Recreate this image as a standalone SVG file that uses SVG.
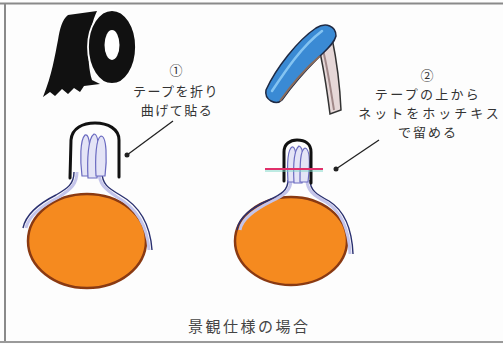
<svg xmlns="http://www.w3.org/2000/svg" width="503" height="344" viewBox="0 0 503 344">
  <defs>
    <style>
      .lbl { font-family: "Noto Sans CJK JP", "Noto Sans", sans-serif; font-size: 13px; fill: #333; text-anchor: middle; }
      .cap { font-family: "Noto Sans CJK JP", "Noto Sans", sans-serif; font-size: 15px; fill: #444; letter-spacing: 2.5px; }
      .tape { fill: none; stroke: #111; stroke-width: 3; stroke-linecap: round; }
      .loop { fill: #e4e4f6; stroke: #6a6ac0; stroke-width: 1.2; }
      .netIn { fill: none; stroke: #c4c4ea; stroke-width: 3; }
      .netOut { fill: none; stroke: #2a3070; stroke-width: 1.4; }
      .ball { fill: #f58a1f; stroke: #8a3a12; stroke-width: 2.5; }
      .lead { fill: none; stroke: #222; stroke-width: 1.3; }
    </style>
  </defs>

  <!-- background and frame -->
  <rect x="0" y="0" width="503" height="344" fill="#fdfdfd"/>
  <line x1="0" y1="3.5" x2="503" y2="3.5" stroke="#8a8a8a" stroke-width="2"/>
  <line x1="5" y1="3" x2="5" y2="343" stroke="#8a8a8a" stroke-width="2"/>
  <line x1="0" y1="342" x2="503" y2="342" stroke="#9a9a9a" stroke-width="2"/>

  <!-- roll of tape -->
  <g id="tape-roll">
    <path d="M68,15 L97,11 C88,30 86,60 92,80 L100,84 L84,86 L80,92 L74,88 L68,94 L62,89 L55,96 L50,92 L43,97 C52,75 55,55 58,40 C60,28 62,20 68,15 Z" fill="#111"/>
    <ellipse cx="112" cy="47" rx="24" ry="37" fill="#111" stroke="#fff" stroke-width="1.8"/>
    <ellipse cx="112" cy="45" rx="7.5" ry="15" fill="#fff"/>
  </g>

  <!-- stapler -->
  <g id="stapler">
    <path d="M318,44 L332,38 C337,62 340,88 341,110 L330,114 C327,90 323,64 318,44 Z" fill="#e6d8d8" stroke="#333" stroke-width="1.5"/>
    <path d="M323,50 C328,70 331,92 334,110" fill="none" stroke="#a08888" stroke-width="2"/>
    <path d="M266,90 C276,68 298,40 316,28 C326,22 336,26 336,36 C334,44 326,50 318,58 C306,70 292,86 282,100 C276,106 264,100 266,90 Z" fill="#3a8ad4" stroke="#1f2a44" stroke-width="1.5"/>
    <path d="M272,91 C286,70 302,46 322,31" fill="none" stroke="#84c4f2" stroke-width="2.5" stroke-linecap="round"/>
    <path d="M280,101 C292,84 306,68 320,56" fill="none" stroke="#8a6a5a" stroke-width="2"/>
  </g>

  <!-- step 1: tape folded over the net -->
  <g id="bag-1">
    <ellipse class="ball" cx="87" cy="241" rx="59" ry="47"/>
    <path class="netIn" d="M77,172 C77,184 71,189 59,197 C43,205 29,215 26,228"/>
    <path class="netOut" d="M74,172 C74,184 68,188 56,195 C40,203 26,214 23,228"/>
    <path class="netIn" d="M99,172 C99,184 105,189 117,197 C135,207 147,223 149,250"/>
    <path class="netOut" d="M102,172 C102,184 108,188 120,195 C138,205 150,222 152,250"/>
    <path class="loop" d="M82,176 C80,160 80,140 85,135 C90,133 91,150 90,176 Z"/>
    <path class="loop" d="M88,178 C87,160 88,138 94,134 C100,134 99,160 97,178 Z"/>
    <path class="loop" d="M96,176 C95,158 96,138 101,136 C107,136 107,160 105,176 Z"/>
    <path class="tape" d="M70,178 L71,140 C72,128 83,123 95,123 C108,123 119,129 119,140 L119,177"/>
  </g>

  <!-- step 2: stapled over the tape -->
  <g id="bag-2">
    <ellipse class="ball" cx="291" cy="241" rx="56" ry="44"/>
    <path class="netIn" d="M291,180 C291,190 285,195 272,201 C256,209 242,218 240,230"/>
    <path class="netOut" d="M288,180 C288,190 282,194 269,200 C253,207 239,216 237,230"/>
    <path class="netIn" d="M307,180 C307,190 313,195 326,202 C342,212 349,230 350,254"/>
    <path class="netOut" d="M310,180 C310,190 316,194 329,201 C345,211 352,230 353,254"/>
    <path class="loop" d="M288,182 C287,165 287,150 292,147 C297,146 297,165 296,182 Z"/>
    <path class="loop" d="M294,183 C293,165 294,150 299,146 C304,147 304,165 302,183 Z"/>
    <path class="loop" d="M300,182 C300,165 300,150 305,148 C310,149 310,165 308,182 Z"/>
    <path class="tape" d="M284,181 L284,152 C284,144 290,140 297,140 C305,140 311,144 311,152 L311,183"/>
    <line x1="265" y1="171" x2="323" y2="171" stroke="#7fd8c8" stroke-width="1"/>
    <line x1="265" y1="169" x2="323" y2="169" stroke="#e0306a" stroke-width="2.2"/>
  </g>

  <!-- callouts -->
  <g id="connectors">
    <line class="lead" x1="127" y1="155" x2="173" y2="121"/>
    <circle cx="127" cy="155" r="2.5" fill="#222"/>
    <line class="lead" x1="336" y1="169" x2="379" y2="140"/>
    <circle cx="336" cy="169" r="2.5" fill="#222"/>
  </g>

  <g id="note-1">
    <text class="lbl" x="176" y="75">①</text>
    <text class="lbl" x="176" y="96" letter-spacing="1.5">テープを折り</text>
    <text class="lbl" x="177" y="115" letter-spacing="1.5">曲げて貼る</text>
  </g>

  <g id="note-2">
    <text class="lbl" x="427" y="80">②</text>
    <text class="lbl" x="428" y="99" letter-spacing="2.3">テープの上から</text>
    <text class="lbl" x="430" y="118" letter-spacing="3">ネットをホッチキス</text>
    <text class="lbl" x="428" y="137" letter-spacing="2">で留める</text>
  </g>

  <g id="caption">
    <text class="cap" x="188" y="332">景観仕様の場合</text>
  </g>
</svg>
